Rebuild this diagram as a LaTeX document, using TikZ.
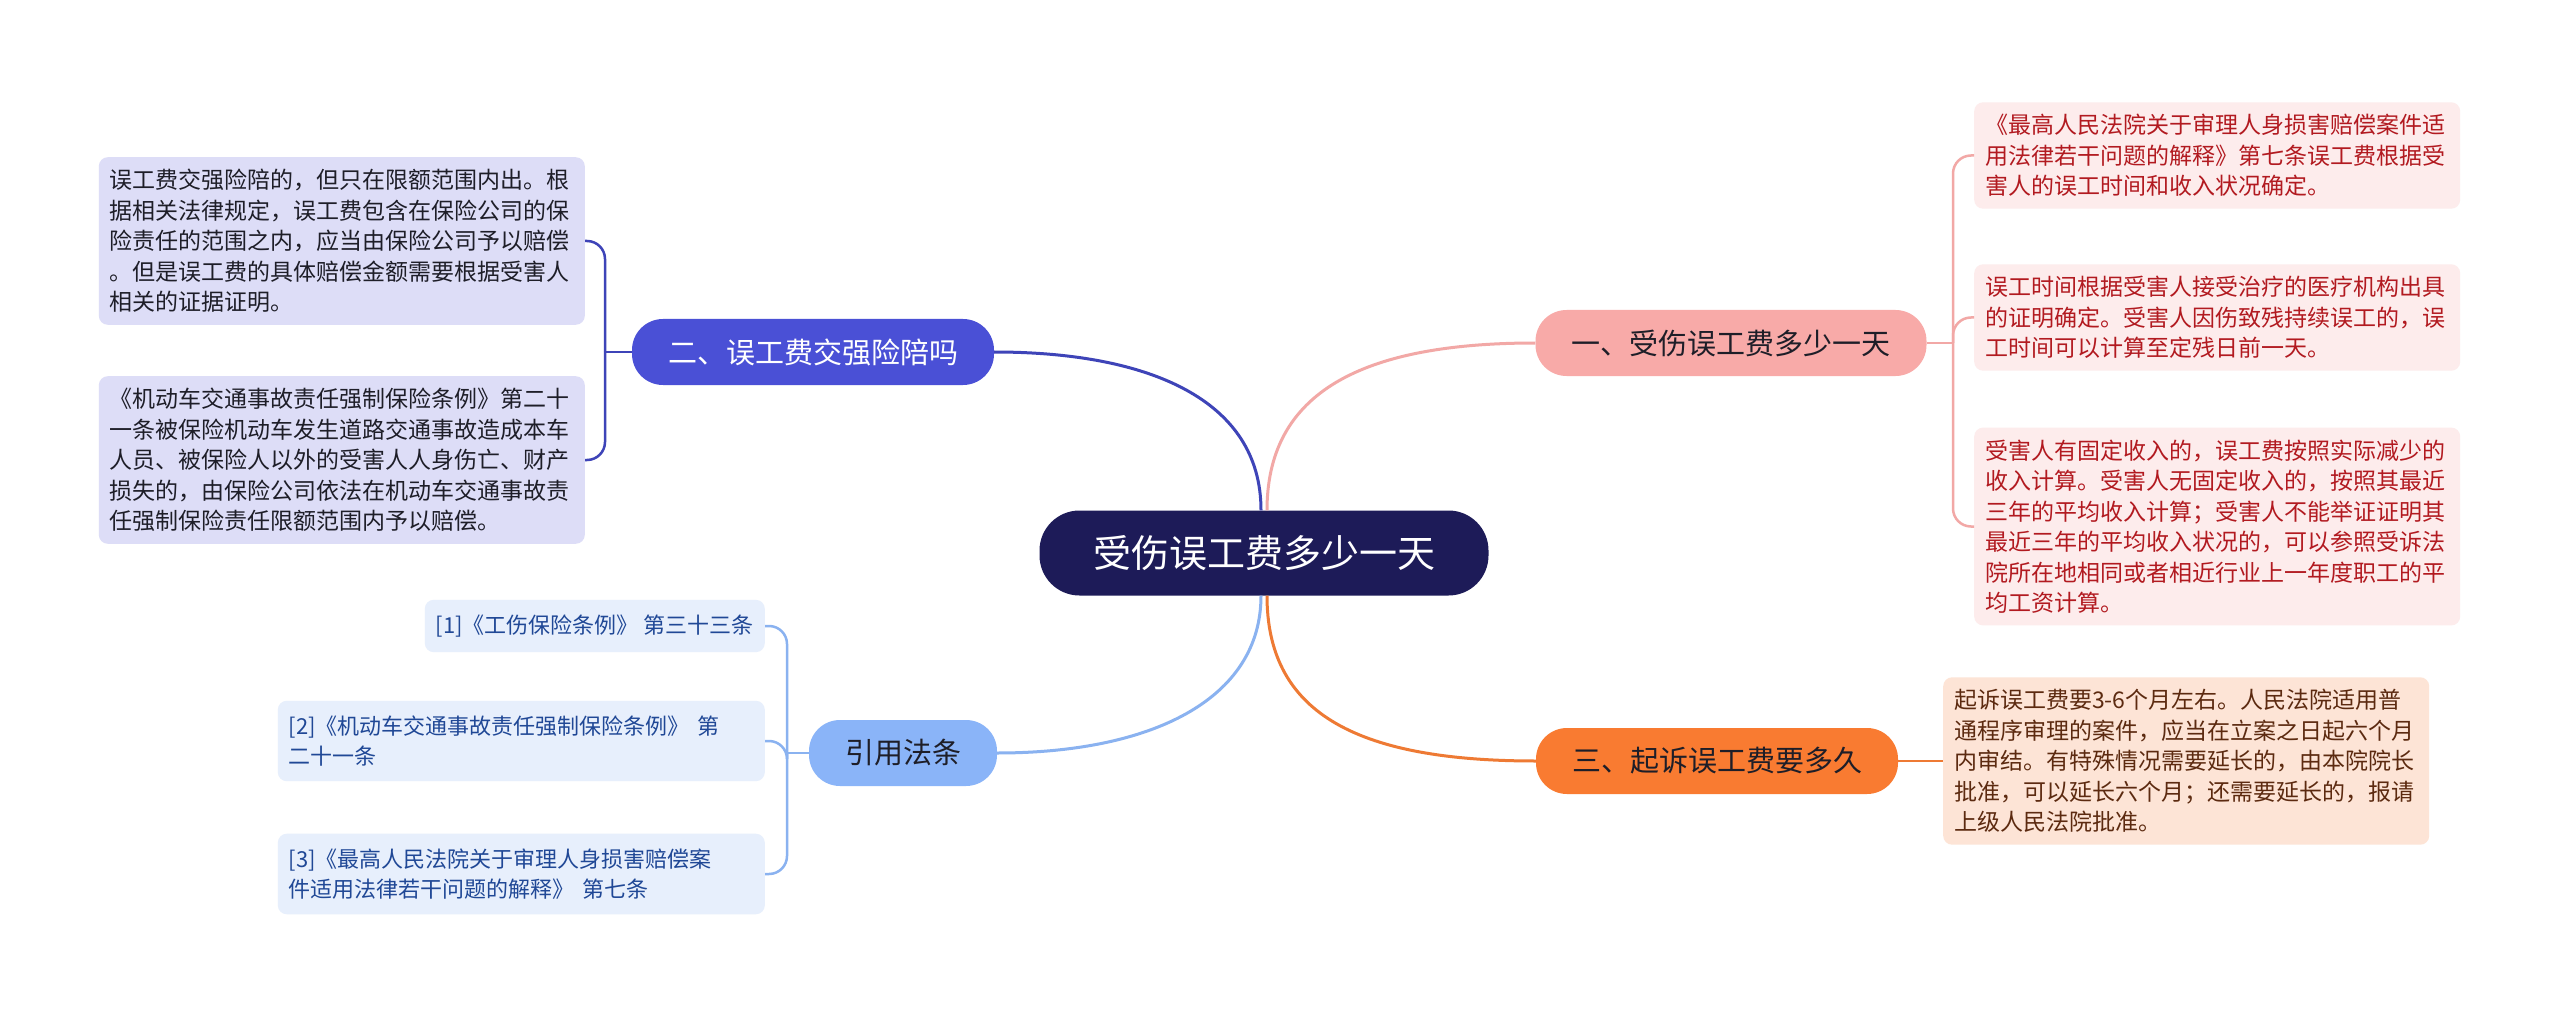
\documentclass[tikz,border=0pt]{standalone}
\usepackage{fontspec}
\setmainfont{Noto Sans CJK SC}
\usepackage{tikz}
\usetikzlibrary{positioning}

\definecolor{rootfill}{RGB}{29,27,88}
\definecolor{onefill}{RGB}{248,170,168}
\definecolor{twofill}{RGB}{74,80,214}
\definecolor{threefill}{RGB}{249,123,49}
\definecolor{citefill}{RGB}{138,180,248}
\definecolor{oneleaf}{RGB}{253,236,236}
\definecolor{twoleaf}{RGB}{221,221,247}
\definecolor{threeleaf}{RGB}{253,228,214}
\definecolor{citeleaf}{RGB}{231,239,252}
\definecolor{onetext}{RGB}{178,26,32}
\definecolor{twotext}{RGB}{30,30,40}
\definecolor{threetext}{RGB}{92,42,16}
\definecolor{citetext}{RGB}{32,72,150}
\definecolor{oneline}{RGB}{242,168,166}
\definecolor{twoline}{RGB}{62,68,184}
\definecolor{threeline}{RGB}{238,122,52}
\definecolor{citeline}{RGB}{138,178,240}

\tikzset{
  root/.style={fill=rootfill, text=white, rounded corners=40pt, minimum width=449pt,
    minimum height=85pt, font=\fontsize{38}{44}\selectfont},
  topic/.style={rounded corners=31pt, minimum height=66pt, inner xsep=36pt,
    font=\fontsize{29}{34}\selectfont},
  leaf/.style={rounded corners=9pt, inner xsep=11pt, inner ysep=12pt, text width=464pt,
    align=left, font=\fontsize{23}{30.5}\selectfont},
  cite/.style={fill=citeleaf, text=citetext, rounded corners=9pt, inner xsep=11pt,
    inner ysep=15pt, align=left, font=\fontsize{22}{30}\selectfont},
  link/.style={line width=3pt},
  twig/.style={line width=2.5pt, rounded corners=18pt},
}

\begin{document}
\begin{tikzpicture}[x=1pt, y=-1pt]
  \useasboundingbox[fill=white] (0,0) rectangle (2560,1016);

  % centre
  \node[root] (ctr) at (1264,553) {受伤误工费多少一天};

  % main topics
  \node[topic, fill=onefill, text=twotext] (one) at (1731,343) {一、受伤误工费多少一天};
  \node[topic, fill=twofill, text=white] (two) at (813,352) {二、误工费交强险陪吗};
  \node[topic, fill=threefill, text=twotext] (three) at (1717,761) {三、起诉误工费要多久};
  \node[topic, fill=citefill, text=twotext] (laws) at (903,753) {引用法条};

  % details of topic one
  \node[leaf, fill=oneleaf, text=onetext, anchor=west] (one1) at (1974,155.5)
    {《最高人民法院关于审理人身损害赔偿案件适\\用法律若干问题的解释》第七条误工费根据受\\害人的误工时间和收入状况确定。};
  \node[leaf, fill=oneleaf, text=onetext, anchor=west] (one2) at (1974,317.5)
    {误工时间根据受害人接受治疗的医疗机构出具\\的证明确定。受害人因伤致残持续误工的，误\\工时间可以计算至定残日前一天。};
  \node[leaf, fill=oneleaf, text=onetext, anchor=west] (one3) at (1974,526.5)
    {受害人有固定收入的，误工费按照实际减少的\\收入计算。受害人无固定收入的，按照其最近\\三年的平均收入计算；受害人不能举证证明其\\最近三年的平均收入状况的，可以参照受诉法\\院所在地相同或者相近行业上一年度职工的平\\均工资计算。};

  % details of topic three
  \node[leaf, fill=threeleaf, text=threetext, anchor=west] (three1) at (1943,761)
    {起诉误工费要3-6个月左右。人民法院适用普\\通程序审理的案件，应当在立案之日起六个月\\内审结。有特殊情况需要延长的，由本院院长\\批准，可以延长六个月；还需要延长的，报请\\上级人民法院批准。};

  % details of topic two
  \node[leaf, fill=twoleaf, text=twotext, anchor=east] (two1) at (585,241)
    {误工费交强险陪的，但只在限额范围内出。根\\据相关法律规定，误工费包含在保险公司的保\\险责任的范围之内，应当由保险公司予以赔偿\\。但是误工费的具体赔偿金额需要根据受害人\\相关的证据证明。};
  \node[leaf, fill=twoleaf, text=twotext, anchor=east] (two2) at (585,460)
    {《机动车交通事故责任强制保险条例》第二十\\一条被保险机动车发生道路交通事故造成本车\\人员、被保险人以外的受害人人身伤亡、财产\\损失的，由保险公司依法在机动车交通事故责\\任强制保险责任限额范围内予以赔偿。};

  % cited laws
  \node[cite, anchor=east] (law1) at (765,626) {[1]《工伤保险条例》 第三十三条};
  \node[cite, anchor=east, text width=465pt] (law2) at (765,741)
    {[2]《机动车交通事故责任强制保险条例》 第\\二十一条};
  \node[cite, anchor=east, text width=465pt] (law3) at (765,874)
    {[3]《最高人民法院关于审理人身损害赔偿案\\件适用法律若干问题的解释》 第七条};

  % centre to topics
  \draw[link, oneline] ([xshift=3pt]ctr.north) .. controls +(0,-111) and +(-185,0) .. (one.west);
  \draw[link, twoline] ([xshift=-3pt]ctr.north) .. controls +(0,-111) and +(154,0) .. (two.east);
  \draw[link, threeline] ([xshift=3pt]ctr.south) .. controls +(0,114) and +(-185,0) .. (three.west);
  \draw[link, citeline] ([xshift=-3pt]ctr.south) .. controls +(0,104) and +(154,0) .. (laws.east);

  % brackets
  \coordinate (jone) at (1953,343);
  \coordinate (jtwo) at (605,352);
  \coordinate (jlaw) at (787,753);
  \draw[twig, oneline] (one.east) -- (jone);
  \foreach \n in {one1,one2,one3}
    \draw[twig, oneline] (jone) |- (\n.west);
  \draw[twig, twoline] (two.west) -- (jtwo);
  \foreach \n in {two1,two2}
    \draw[twig, twoline] (jtwo) |- (\n.east);
  \draw[twig, citeline] (laws.west) -- (jlaw);
  \foreach \n in {law1,law2,law3}
    \draw[twig, citeline] (jlaw) |- (\n.east);
  \draw[twig, threeline] (three.east) -- (three1.west);
\end{tikzpicture}
\end{document}
